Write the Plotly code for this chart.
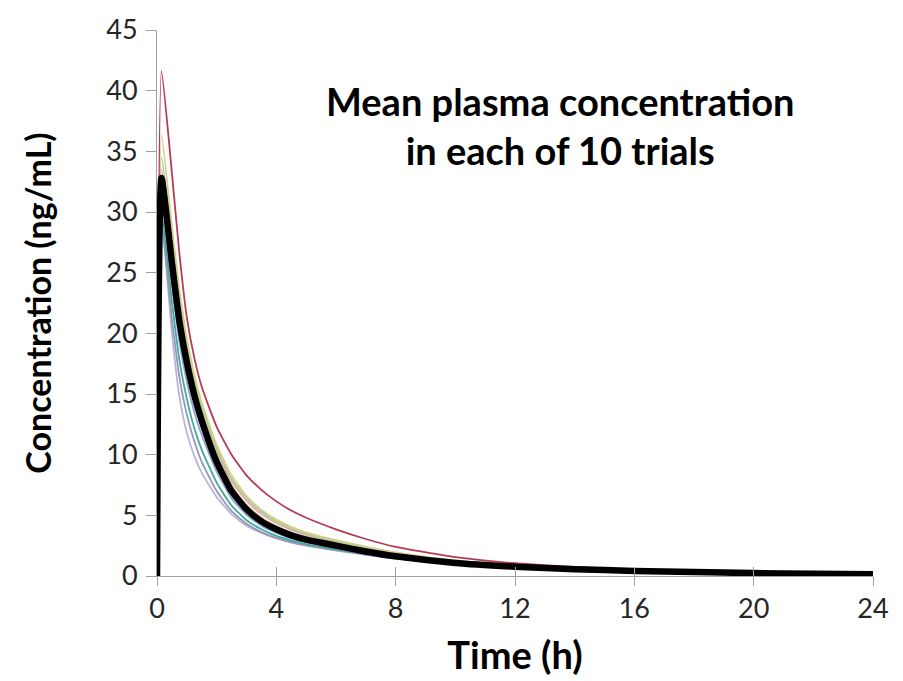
import plotly.graph_objects as go

# Sampling times (h)
time_h = [0, 0.15, 0.5, 0.75, 1, 1.25, 1.5, 2, 2.5, 3, 3.5, 4, 4.5, 5, 6, 7, 8,
          10, 12, 14, 16, 18, 20, 22, 24]

# Mean plasma concentration (ng/mL) in each trial
trial_1 = [0, 41.6, 33.2, 26.6, 21.3, 18.0, 15.6, 12.3, 10.0, 8.3, 7.1, 6.15, 5.4, 4.8, 3.85, 3.05, 2.4,
           1.55, 1.05, 0.74, 0.53, 0.38, 0.28, 0.2, 0.15]
trial_2 = [0, 36.3, 28.8, 23.6, 19.6, 16.6, 14.3, 10.8, 8.3, 6.6, 5.45, 4.65, 4.05, 3.6, 2.95, 2.42, 1.95,
           1.28, 0.88, 0.63, 0.46, 0.35, 0.26, 0.19, 0.14]
trial_3 = [0, 34.5, 27.6, 22.8, 19.0, 16.1, 13.9, 10.5, 8.0, 6.4, 5.3, 4.5, 3.92, 3.48, 2.85, 2.33, 1.88,
           1.24, 0.86, 0.62, 0.45, 0.34, 0.25, 0.19, 0.14]
trial_4 = [0, 33.5, 26.8, 22.0, 18.4, 15.6, 13.5, 10.2, 7.75, 6.2, 5.1, 4.35, 3.8, 3.38, 2.76, 2.25, 1.82,
           1.2, 0.84, 0.6, 0.44, 0.33, 0.25, 0.18, 0.13]
trial_5 = [0, 33.0, 26.2, 21.4, 17.9, 15.2, 13.1, 9.8, 7.4, 5.85, 4.8, 4.1, 3.58, 3.2, 2.62, 2.14, 1.73,
           1.14, 0.8, 0.58, 0.43, 0.32, 0.24, 0.18, 0.13]
trial_6 = [0, 32.0, 25.0, 20.3, 16.9, 14.3, 12.3, 9.1, 6.8, 5.35, 4.4, 3.75, 3.27, 2.93, 2.42, 1.98, 1.6,
           1.06, 0.76, 0.55, 0.41, 0.31, 0.23, 0.17, 0.13]
trial_7 = [0, 31.0, 24.0, 19.3, 16.0, 13.5, 11.6, 8.6, 6.4, 5.05, 4.15, 3.55, 3.1, 2.78, 2.3, 1.9, 1.54,
           1.03, 0.74, 0.54, 0.4, 0.3, 0.23, 0.17, 0.12]
trial_8 = [0, 30.0, 22.6, 17.8, 14.6, 12.2, 10.4, 7.7, 5.8, 4.6, 3.85, 3.3, 2.92, 2.63, 2.2, 1.82, 1.48,
           1.0, 0.72, 0.53, 0.4, 0.3, 0.22, 0.17, 0.12]
trial_9 = [0, 29.0, 21.2, 16.4, 13.3, 11.1, 9.4, 7.0, 5.35, 4.3, 3.62, 3.15, 2.8, 2.53, 2.13, 1.77, 1.44,
           0.98, 0.7, 0.52, 0.39, 0.29, 0.22, 0.16, 0.12]
trial_10 = [0, 29.5, 20.0, 14.8, 11.8, 9.9, 8.5, 6.5, 5.1, 4.15, 3.55, 3.1, 2.76, 2.5, 2.1, 1.75, 1.43,
            0.97, 0.7, 0.52, 0.39, 0.29, 0.22, 0.16, 0.12]

# Overall mean across trials
overall_mean = [0, 32.8, 25.8, 21.0, 17.6, 14.9, 12.8, 9.4, 7.0, 5.5, 4.5, 3.85, 3.35, 3.0, 2.5, 2.02, 1.62,
                1.08, 0.77, 0.56, 0.42, 0.32, 0.24, 0.18, 0.14]

trials = [trial_10, trial_9, trial_8, trial_7, trial_6, trial_5, trial_4, trial_3, trial_2, trial_1]
trial_colors = ["#b9b5da", "#9497b8", "#3fa99a", "#8ea3d0", "#93cfd6",
                "#efb97c", "#e8a6b8", "#a3d08a", "#d8cd8c", "#b83a52"]

x_ticks = [0, 4, 8, 12, 16, 20, 24]
y_ticks = [0, 5, 10, 15, 20, 25, 30, 35, 40, 45]

FONT = "Lato"
AXIS_GRAY = "#a0a0a0"
TEXT_DARK = "#262626"

fig = go.Figure()

for values, color in zip(trials, trial_colors):
    fig.add_trace(go.Scatter(x=time_h, y=values, mode="lines",
                             line=dict(color=color, width=1.8, shape="spline", smoothing=0.5),
                             showlegend=False, hoverinfo="skip"))

fig.add_trace(go.Scatter(x=time_h, y=overall_mean, mode="lines",
                         line=dict(color="#000000", width=6.5, shape="spline", smoothing=0.5),
                         showlegend=False))

# Companion axis carrying the inward half of the crossing x ticks
fig.add_trace(go.Scatter(x=time_h, y=overall_mean, mode="lines", xaxis="x2",
                         line=dict(width=0), opacity=0, showlegend=False, hoverinfo="skip"))

fig.update_layout(
    width=903, height=681,
    margin=dict(l=157, r=30, t=24, b=105),
    paper_bgcolor="white", plot_bgcolor="white",
    font=dict(family=FONT, color=TEXT_DARK),
    xaxis=dict(range=[0, 24], tickvals=x_ticks, ticktext=[str(v) for v in x_ticks],
               showgrid=False, zeroline=False, showline=True, linecolor=AXIS_GRAY, linewidth=1,
               ticks="outside", ticklen=9, tickcolor=AXIS_GRAY, tickwidth=1,
               tickfont=dict(size=27, family=FONT, color=TEXT_DARK),
               title=dict(text="<b>Time (h)</b>", font=dict(size=38, family=FONT, color="#000000"),
                          standoff=18)),
    xaxis2=dict(range=[0, 24], tickvals=x_ticks, overlaying="x", anchor="y", side="bottom",
                showgrid=False, zeroline=False, showline=False, showticklabels=False,
                ticks="inside", ticklen=9, tickcolor=AXIS_GRAY, tickwidth=1),
    yaxis=dict(range=[0, 45], tickvals=y_ticks, ticktext=[str(v) for v in y_ticks],
               showgrid=False, zeroline=False, showline=True, linecolor=AXIS_GRAY, linewidth=1,
               ticks="outside", ticklen=10, tickcolor=AXIS_GRAY, tickwidth=1,
               tickfont=dict(size=27, family=FONT, color=TEXT_DARK),
               ticklabelstandoff=3,
               title=dict(text="<b>Concentration (ng/mL)</b>",
                          font=dict(size=34, family=FONT, color="#000000"), standoff=44)),
    annotations=[dict(text="<b>Mean plasma concentration<br>in each of 10 trials</b>",
                      xref="paper", yref="paper", x=0.563, y=0.826,
                      xanchor="center", yanchor="middle", showarrow=False, align="center",
                      font=dict(size=38, family=FONT, color="#000000"))],
)

fig.write_html("out.html")
